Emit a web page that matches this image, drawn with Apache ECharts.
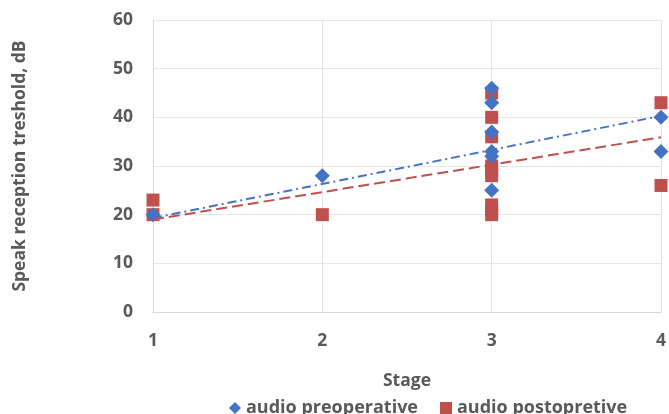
<!DOCTYPE html>
<html><head><meta charset="utf-8">
<script src="https://cdn.jsdelivr.net/npm/echarts@6/dist/echarts.min.js"></script>
<style>html,body{margin:0;padding:0;background:#fff}#c{width:669px;height:414px}</style>
</head><body><div id="c"></div>
<script>
const preX = [1, 2, 3, 3, 3, 3, 3, 3, 4, 4];
const preY = [20, 28, 46, 43, 37, 33, 32, 25, 40, 33];
const postX = [1, 1, 2, 3, 3, 3, 3, 3, 3, 3, 3, 3, 4, 4];
const postY = [23, 20, 20, 45, 40, 36, 30, 29, 28, 22, 21, 20, 43, 26];
const trendX = [1, 4];
const preTrend = [19.3, 40.3];
const postTrend = [19.0, 35.9];
const xTicks = [1, 2, 3, 4];
const yTicks = [0, 10, 20, 30, 40, 50, 60];

const zip = (a, b) => a.map((v, i) => [v, b[i]]);
const font = '"Open Sans", "Liberation Sans", sans-serif';
const txt = {fontFamily: font, fontWeight: 'bold', fontSize: 17.5, color: '#595959'};
const chart = echarts.init(document.getElementById('c'), null, {renderer: 'canvas'});
chart.setOption({
  animation: false,
  grid: {left: 153, right: 4, top: 20, bottom: 102},
  legend: {
    top: 393, left: 224, itemGap: 22, itemWidth: 12, itemHeight: 12,
    textStyle: Object.assign({}, txt, {fontSize: 18, lineHeight: 20}),
    data: [{name: 'audio preoperative', icon: 'diamond'}, {name: 'audio postopretive', icon: 'rect'}]
  },
  xAxis: {
    type: 'value', min: xTicks[0], max: xTicks[xTicks.length - 1], interval: 1,
    name: 'Stage', nameLocation: 'middle', nameGap: 60,
    nameTextStyle: txt,
    axisLine: {show: true, lineStyle: {color: '#d9d9d9'}},
    axisTick: {show: false},
    splitLine: {show: true, lineStyle: {color: '#e6e6e6'}},
    axisLabel: Object.assign({margin: 20}, txt)
  },
  yAxis: {
    type: 'value', min: yTicks[0], max: yTicks[yTicks.length - 1], interval: 10,
    name: 'Speak reception treshold, dB', nameLocation: 'middle', nameGap: 124, nameRotate: 90,
    nameTextStyle: txt,
    axisLine: {show: true, lineStyle: {color: '#d9d9d9'}},
    axisTick: {show: false},
    splitLine: {show: true, lineStyle: {color: '#e6e6e6'}},
    axisLabel: Object.assign({margin: 20}, txt)
  },
  series: [
    {name: 'audio preoperative', type: 'scatter', symbol: 'diamond', symbolSize: 15,
     itemStyle: {color: '#4472C4', opacity: 1}, data: zip(preX, preY), z: 3},
    {name: 'audio postopretive', type: 'scatter', symbol: 'rect', symbolSize: 13,
     itemStyle: {color: '#C0504D', opacity: 1}, data: zip(postX, postY), z: 2},
    {name: 'preTrend', type: 'line', showSymbol: false, symbol: 'none', silent: true,
     lineStyle: {color: '#4472C4', width: 2, type: [9, 4, 2, 4]}, data: zip(trendX, preTrend), z: 4},
    {name: 'postTrend', type: 'line', showSymbol: false, symbol: 'none', silent: true,
     lineStyle: {color: '#C0504D', width: 2, type: [11, 5]}, data: zip(trendX, postTrend), z: 4}
  ]
});
</script></body></html>
